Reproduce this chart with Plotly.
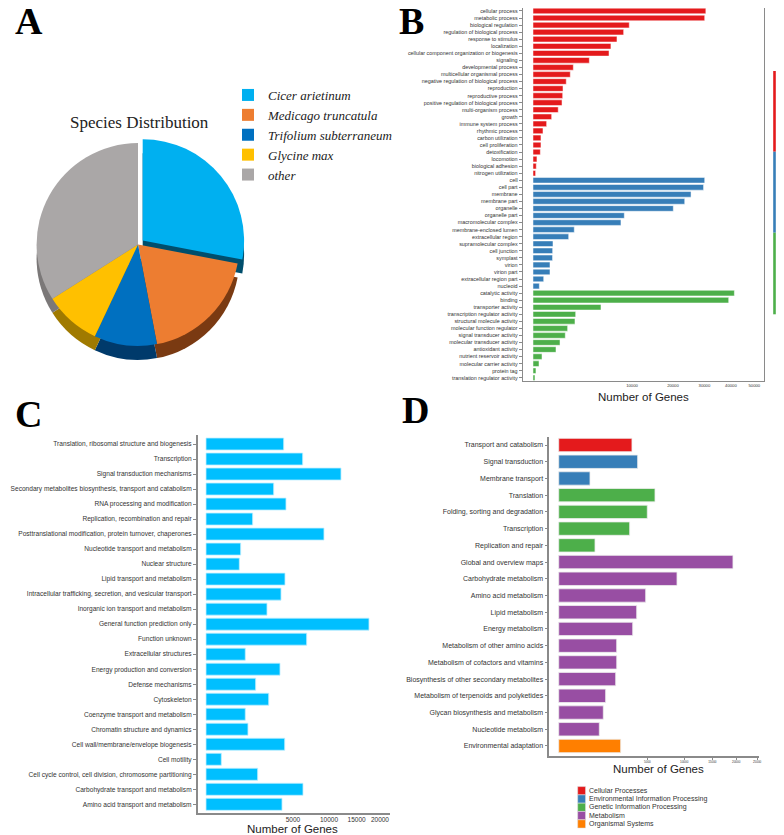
import numpy as np
import plotly.graph_objects as go

# ---------------- data ----------------
# A: species distribution of top blast hits (%)
species = ["Cicer arietinum", "Medicago truncatula", "Trifolium subterraneum",
           "Glycine max", "other"]
species_share = [28, 19, 10, 9, 34]
species_colors = ["#00B0F0", "#ED7D31", "#0070C0", "#FFC000", "#AAA7A7"]
species_sides = ["#004E6C", "#7A3A12", "#003A6B", "#A07A00", "#7B7878"]

# B: GO classification
go_bp = ["cellular process", "metabolic process", "biological regulation",
         "regulation of biological process", "response to stimulus", "localization",
         "cellular component organization or biogenesis", "signaling",
         "developmental process", "multicellular organismal process",
         "negative regulation of biological process", "reproduction",
         "reproductive process", "positive regulation of biological process",
         "multi-organism process", "growth", "immune system process",
         "rhythmic process", "carbon utilization", "cell proliferation",
         "detoxification", "locomotion", "biological adhesion", "nitrogen utilization"]
go_bp_counts = [30500, 30100, 9460, 8390, 7200, 6200, 5900, 3240, 1660, 1420,
                1130, 920, 900, 860, 650, 356, 190, 102, 65, 65, 55, 16, 11, 7]
go_cc = ["cell", "cell part", "membrane", "membrane part", "organelle",
         "organelle part", "macromolecular complex", "membrane-enclosed lumen",
         "extracellular region", "supramolecular complex", "cell junction",
         "symplast", "virion", "virion part", "extracellular region part", "nucleoid"]
go_cc_counts = [30100, 29700, 25500, 23500, 20100, 8510, 7900, 1740, 1300,
                408, 395, 390, 295, 295, 117, 41]
go_mf = ["catalytic activity", "binding", "transporter activity",
         "transcription regulator activity", "structural molecule activity",
         "molecular function regulator", "signal transducer activity",
         "molecular transducer activity", "antioxidant activity",
         "nutrient reservoir activity", "molecular carrier activity",
         "protein tag", "translation regulator activity"]
go_mf_counts = [41400, 39100, 4720, 1860, 1800, 1225, 1065, 745, 540, 83, 37, 9, 4]
go_ticks = [10000, 20000, 30000, 40000, 50000]

# C: COG classification
cog_terms = ["Translation, ribosomal structure and biogenesis", "Transcription",
             "Signal transduction mechanisms",
             "Secondary metabolites biosynthesis, transport and catabolism",
             "RNA processing and modification", "Replication, recombination and repair",
             "Posttranslational modification, protein turnover, chaperones",
             "Nucleotide transport and metabolism", "Nuclear structure",
             "Lipid transport and metabolism",
             "Intracellular trafficking, secretion, and vesicular transport",
             "Inorganic ion transport and metabolism", "General function prediction only",
             "Function unknown", "Extracellular structures",
             "Energy production and conversion", "Defense mechanisms", "Cytoskeleton",
             "Coenzyme transport and metabolism", "Chromatin structure and dynamics",
             "Cell wall/membrane/envelope biogenesis", "Cell motility",
             "Cell cycle control, cell division, chromosome partitioning",
             "Carbohydrate transport and metabolism", "Amino acid transport and metabolism"]
cog_counts = [3990, 6180, 12050, 3030, 4230, 1440, 9200, 795, 734, 4125, 3720, 2460,
              17560, 6700, 1020, 3620, 1630, 2600, 1020, 1165, 4095, 155, 1765, 6220, 3820]
cog_ticks = [5000, 10000, 15000, 20000]

# D: KEGG classification
kegg_terms = ["Transport and catabolism", "Signal transduction", "Membrane transport",
              "Translation", "Folding, sorting and degradation", "Transcription",
              "Replication and repair", "Global and overview maps",
              "Carbohydrate metabolism", "Amino acid metabolism", "Lipid metabolism",
              "Energy metabolism", "Metabolism of other amino acids",
              "Metabolism of cofactors and vitamins",
              "Biosynthesis of other secondary metabolites",
              "Metabolism of terpenoids and polyketides",
              "Glycan biosynthesis and metabolism", "Nucleotide metabolism",
              "Environmental adaptation"]
kegg_counts = [3410, 3960, 622, 5890, 4985, 3200, 837, 19290, 8890, 4805, 3865,
               3480, 2136, 2140, 2063, 1400, 1263, 1047, 2440]
kegg_groups = ["Cellular Processes", "Environmental Information Processing",
               "Environmental Information Processing"] + \
              ["Genetic Information Processing"] * 4 + ["Metabolism"] * 11 + \
              ["Organismal Systems"]
kegg_group_names = ["Cellular Processes", "Environmental Information Processing",
                    "Genetic Information Processing", "Metabolism", "Organismal Systems"]
kegg_group_colors = ["#E41A1C", "#377EB8", "#4DAF4A", "#984EA3", "#FF7F00"]
kegg_ticks = [5000, 10000, 15000, 20000, 25000]

# ---------------- figure ----------------
W, H = 784, 835
OFF = 8  # page body margin, positions below are screen pixels

def px(x):
    return min(max((x - OFF) / W, 0), 1)
def py(y):
    return min(max(1 - (y - OFF) / H, 0), 1)

SANS = "Liberation Sans, Arial, sans-serif"
SERIF = "Liberation Serif, Times New Roman, serif"
AXCOL = "#8a8a8a"
TXT = "#333333"

fig = go.Figure()

# A - pie (darker copy underneath gives the depth)
fig.add_trace(go.Pie(labels=species, values=species_share, sort=False,
                     direction="clockwise", rotation=0, pull=[0.06, 0, 0, 0, 0],
                     marker=dict(colors=species_sides), textinfo="none",
                     showlegend=False, hoverinfo="skip",
                     domain=dict(x=[px(8), px(268)], y=[py(366), py(151)])))
fig.add_trace(go.Pie(labels=species, values=species_share, sort=False,
                     direction="clockwise", rotation=0, pull=[0.06, 0, 0, 0, 0],
                     marker=dict(colors=species_colors), textinfo="none",
                     domain=dict(x=[px(8), px(268)], y=[py(352), py(137)])))

# B - GO, sqrt scaled x axis
go_terms = go_bp + go_cc + go_mf
go_counts = go_bp_counts + go_cc_counts + go_mf_counts
go_cols = ["#E41A1C"] * len(go_bp) + ["#377EB8"] * len(go_cc) + ["#4DAF4A"] * len(go_mf)
fig.add_trace(go.Bar(x=np.sqrt(go_counts), y=go_terms, orientation="h",
                     marker=dict(color=go_cols, line=dict(color="white", width=0.5)),
                     showlegend=False, xaxis="x", yaxis="y"))

# C - COG
fig.add_trace(go.Bar(x=np.sqrt(cog_counts), y=cog_terms, orientation="h",
                     marker=dict(color="#00BFFF", line=dict(color="#BFEFFF", width=0.8)),
                     showlegend=False, xaxis="x2", yaxis="y2"))

# D - KEGG
col_map = dict(zip(kegg_group_names, kegg_group_colors))
fig.add_trace(go.Bar(x=np.sqrt(kegg_counts), y=kegg_terms, orientation="h",
                     marker=dict(color=[col_map[g] for g in kegg_groups],
                                 line=dict(color="#EEEEEE", width=0.8)),
                     showlegend=False, xaxis="x3", yaxis="y3"))

fig.update_layout(
    width=W, height=H, margin=dict(l=0, r=0, t=0, b=0, autoexpand=False),
    paper_bgcolor="white", plot_bgcolor="white",
    font=dict(family=SANS, color=TXT),
    legend=dict(x=px(228), y=py(80), xanchor="left", yanchor="top",
                font=dict(family=SERIF, size=13, style="italic", color="#222"),
                itemwidth=30, tracegroupgap=0, bgcolor="rgba(0,0,0,0)"),
    # B
    xaxis=dict(domain=[px(522.7), px(764)], range=[-10.4, 233.4], automargin=False,
               tickvals=np.sqrt(go_ticks), ticktext=[str(t) for t in go_ticks],
               tickfont=dict(size=4.2), ticks="", showgrid=False, zeroline=False,
               showline=True, mirror=True, linecolor=AXCOL, linewidth=1),
    yaxis=dict(domain=[py(381), py(2.7)], range=[52.46, -0.42], automargin=False,
               categoryorder="array", categoryarray=go_terms,
               tickfont=dict(size=5.4), ticks="outside", ticklen=3, tickcolor=AXCOL,
               showgrid=False, showline=True, mirror=True, linecolor=AXCOL, linewidth=1),
    # C
    xaxis2=dict(domain=[px(197.7), px(390)], range=[-6.75, 149.6], anchor="y2",
                automargin=False,
                tickvals=np.sqrt(cog_ticks), ticktext=[str(t) for t in cog_ticks],
                tickfont=dict(size=6.5), ticks="", showgrid=False, zeroline=False,
                showline=True, linecolor=AXCOL, linewidth=1.5),
    yaxis2=dict(domain=[py(812.7), py(435)], range=[24.56, -0.6], anchor="x2",
                automargin=False, categoryorder="array", categoryarray=cog_terms,
                tickfont=dict(size=6.6), ticks="outside", ticklen=3, tickcolor=AXCOL,
                showgrid=False, showline=True, linecolor=AXCOL, linewidth=1.5),
    # D
    xaxis3=dict(domain=[px(549.3), px(758.7)], range=[-7.5, 159.4], anchor="y3",
                automargin=False,
                tickvals=np.sqrt(kegg_ticks), ticktext=[str(t) for t in kegg_ticks],
                tickfont=dict(size=3), ticks="outside", ticklen=2, tickcolor=AXCOL,
                showgrid=False, zeroline=False, showline=True, linecolor=AXCOL,
                linewidth=1.5),
    yaxis3=dict(domain=[py(756), py(437)], range=[18.6, -0.48], anchor="x3",
                automargin=False, categoryorder="array", categoryarray=kegg_terms,
                tickfont=dict(size=7), ticks="outside", ticklen=3, tickcolor=AXCOL,
                showgrid=False, showline=True, linecolor=AXCOL, linewidth=1.5),
)

ann = []
# panel letters
for lab, x, y in [("A", 29, 21), ("B", 412, 21), ("C", 28.5, 413.5), ("D", 415, 410)]:
    ann.append(dict(text="<b>%s</b>" % lab, x=px(x), y=py(y), xref="paper", yref="paper",
                    xanchor="center", yanchor="middle", showarrow=False,
                    font=dict(family=SERIF, size=38, color="black")))
ann.append(dict(text="Species Distribution", x=px(139), y=py(123), xref="paper",
                yref="paper", showarrow=False, xanchor="center", yanchor="middle",
                font=dict(family=SERIF, size=17, color="#222")))
# axis titles
for x, y in [(643, 396.7), (292, 828.5), (658.7, 769)]:
    ann.append(dict(text="Number of Genes", x=px(x), y=py(y), xref="paper", yref="paper",
                    showarrow=False, xanchor="center", yanchor="middle",
                    font=dict(family=SANS, size=11.5, color="#222")))

shapes = []
# GO ontology strips
for name, col, y0, y1 in [("biological_process", "#E41A1C", 71, 151.7),
                          ("cellular_component", "#377EB8", 151.7, 232.7),
                          ("molecular_function", "#4DAF4A", 232.7, 314.3)]:
    shapes.append(dict(type="rect", xref="paper", yref="paper", x0=px(773.2), x1=px(775.8),
                       y0=py(y1), y1=py(y0), fillcolor=col, line=dict(width=0)))
    ann.append(dict(text=name, x=px(776.2), y=py((y0 + y1) / 2), xref="paper", yref="paper",
                    showarrow=False, textangle=90, xanchor="left", yanchor="middle",
                    font=dict(family=SANS, size=5.2, color="#222")))

# KEGG legend
for i, (name, col) in enumerate(zip(kegg_group_names, kegg_group_colors)):
    yc = 790.7 + i * 8.3
    shapes.append(dict(type="rect", xref="paper", yref="paper", x0=px(577.7), x1=px(585.5),
                       y0=py(yc + 4.1), y1=py(yc - 4.1), fillcolor=col,
                       line=dict(width=0.5, color="#dddddd")))
    ann.append(dict(text=name, x=px(587), y=py(yc), xref="paper", yref="paper",
                    showarrow=False, xanchor="left", yanchor="middle",
                    font=dict(family=SANS, size=7, color=TXT)))

fig.update_layout(annotations=ann, shapes=shapes)

fig.write_html("out.html")
